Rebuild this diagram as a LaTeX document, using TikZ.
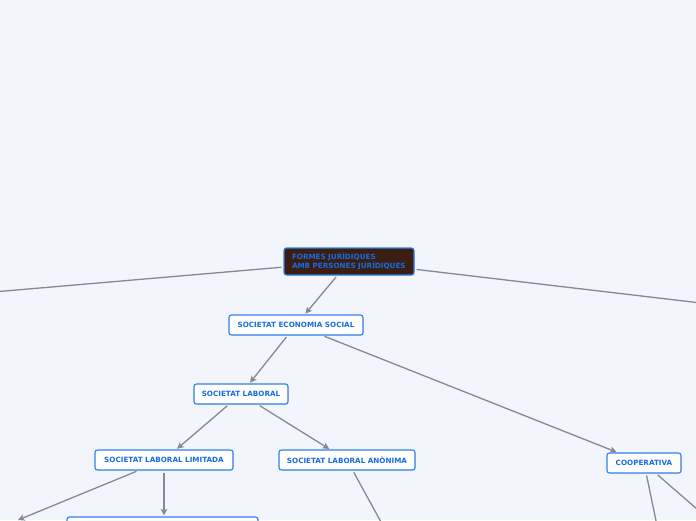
\documentclass[tikz,border=0pt]{standalone}
\usepackage{fontspec}
\setmainfont{DejaVu Sans}
\usetikzlibrary{arrows.meta, positioning, shadows}
\definecolor{mapbg}{RGB}{243,245,253}
\definecolor{mapblue}{RGB}{47,128,237}
\definecolor{maptext}{RGB}{24,108,224}
\definecolor{mapbrown}{RGB}{58,30,18}
\definecolor{mapedge}{RGB}{134,137,146}

\begin{document}
\begin{tikzpicture}[x=1pt, y=-1pt, font=\fontsize{7.2}{9.2}\selectfont\bfseries,
    topic/.style={draw=mapblue, fill=white, text=maptext, rounded corners=2.5pt,
      line width=1.1pt, minimum height=20pt, inner xsep=4pt,
      drop shadow={opacity=0.12, shadow xshift=0.8pt, shadow yshift=-0.8pt}},
    link/.style={draw=mapedge, line width=1.3pt, shorten <=2pt, shorten >=1pt,
      -{Stealth[length=6.5pt, width=6.5pt, inset=1.5pt]}}]
  \useasboundingbox (0,0) rectangle (696,520);
  \fill[mapbg] (0,0) rectangle (696,520);
  \clip (0,0) rectangle (696,520);

  % central topic
  \node[topic, fill=mapbrown, minimum width=130pt, minimum height=27pt,
        align=left, text width=114pt] (root) at (349,261.5)
        {FORMES JURÍDIQUES\\AMB PERSONES JURÍDIQUES};

  % subtopics
  \node[topic, minimum width=134pt] (ses) at (296,325) {SOCIETAT ECONOMIA SOCIAL};
  \node[topic, minimum width=94pt] (sl) at (241,394) {SOCIETAT LABORAL};
  \node[topic, minimum width=138pt] (sll) at (164,460) {SOCIETAT LABORAL LIMITADA};
  \node[topic, minimum width=136pt] (sla) at (347,460) {SOCIETAT LABORAL ANÒNIMA};
  \node[topic, minimum width=74pt] (coop) at (644,463) {COOPERATIVA};
  \node[topic, minimum width=191pt, minimum height=36pt] (sllbox) at (162.5,535) {};

  % ends outside the page
  \coordinate (offleft) at (-100,300);
  \coordinate (offright) at (760,310);
  \coordinate (sllleft) at (18,520);
  \coordinate (sladown) at (392,542);
  \coordinate (coopdown) at (660,540);
  \coordinate (coopright) at (720,529);

  \draw[link] (root) -- (offleft);
  \draw[link] (root) -- (offright);
  \draw[link] (root) -- (ses);
  \draw[link] (ses) -- (sl);
  \draw[link] (ses) -- (coop);
  \draw[link] (sl) -- (sll);
  \draw[link] (sl) -- (sla);
  \draw[link, shorten >=0pt] (sll) -- (sllleft);
  \draw[link] (sll) -- (sll |- sllbox.north);
  \draw[link] (sla) -- (sladown);
  \draw[link] (coop) -- (coopdown);
  \draw[link] (coop) -- (coopright);
\end{tikzpicture}
\end{document}
